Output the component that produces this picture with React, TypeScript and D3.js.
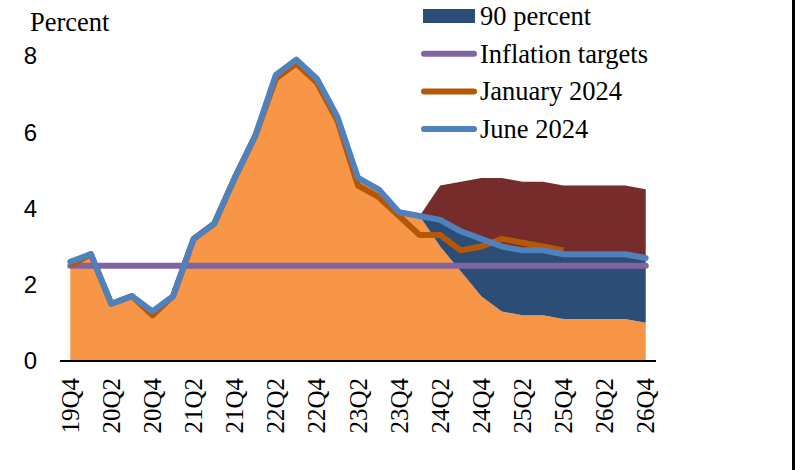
import React from "react";
import * as d3 from "d3";

const quarters = [
  "19Q4", "20Q1", "20Q2", "20Q3", "20Q4", "21Q1", "21Q2", "21Q3", "21Q4",
  "22Q1", "22Q2", "22Q3", "22Q4", "23Q1", "23Q2", "23Q3", "23Q4",
  "24Q1", "24Q2", "24Q3", "24Q4", "25Q1", "25Q2", "25Q3", "25Q4",
  "26Q1", "26Q2", "26Q3", "26Q4",
];
const tickLabels = [
  "19Q4", "20Q2", "20Q4", "21Q2", "21Q4", "22Q2", "22Q4", "23Q2", "23Q4",
  "24Q2", "24Q4", "25Q2", "25Q4", "26Q2", "26Q4",
];
const yTicks = [0, 2, 4, 6, 8];

// June 2024 projection (history + forecast), 19Q4..26Q4
const june2024 = [
  2.6, 2.8, 1.5, 1.7, 1.3, 1.7, 3.2, 3.6, 4.8, 5.9, 7.5, 7.9, 7.4, 6.4, 4.8, 4.5,
  3.9, 3.8, 3.7, 3.4, 3.2, 3.0, 2.9, 2.9, 2.8, 2.8, 2.8, 2.8, 2.7,
];
// January 2024 projection, 19Q4..25Q4
const january2024 = [
  2.5, 2.8, 1.5, 1.7, 1.2, 1.7, 3.2, 3.6, 4.8, 5.9, 7.4, 7.8, 7.3, 6.3, 4.6, 4.3,
  3.8, 3.3, 3.3, 2.9, 3.0, 3.2, 3.1, 3.0, 2.9,
];
// 90 percent band, 24Q1..26Q4
const fanStart = 17;
const lower90 = [3.8, 3.0, 2.35, 1.7, 1.3, 1.2, 1.2, 1.1, 1.1, 1.1, 1.1, 1.0];
const upper90 = [3.8, 4.6, 4.7, 4.8, 4.8, 4.7, 4.7, 4.6, 4.6, 4.6, 4.6, 4.5];
const inflationTarget = quarters.map(() => 2.5);

const legendItems = ["90 percent", "Inflation targets", "January 2024", "June 2024"];

const C = {
  orange: "#F79646",
  band: "#2C4D75",
  upper: "#772C2C",
  june: "#4F81BD",
  jan: "#B65708",
  target: "#8064A2",
};

const serif = "'Liberation Serif', 'Times New Roman', serif";
const sans = "'Liberation Sans', Arial, sans-serif";

export default function App() {
  const W = 795;
  const H = 470;
  const x = d3.scaleBand<string>().domain(quarters).range([60, 656]).padding(0);
  const cx = (i: number) => (x(quarters[i]) as number) + x.bandwidth() / 2;
  const y = d3.scaleLinear().domain([0, 8]).range([361, 55.8]);

  const baseSeries = june2024.slice(0, fanStart).concat(lower90);
  const areaBase = d3
    .area<number>()
    .x((_, i) => cx(i))
    .y0(y(0))
    .y1((d) => y(d));
  const bandIdx = lower90.map((_, i) => i + fanStart);
  const areaLowBand = d3
    .area<number>()
    .x((i) => cx(i))
    .y0((i) => y(lower90[i - fanStart]))
    .y1((i) => y(june2024[i]));
  const areaUpBand = d3
    .area<number>()
    .x((i) => cx(i))
    .y0((i) => y(june2024[i]))
    .y1((i) => y(upper90[i - fanStart]));
  const line = d3
    .line<number>()
    .x((_, i) => cx(i))
    .y((d) => y(d));

  return (
    <svg
      width={W}
      height={H}
      style={{ position: "absolute", left: 0, top: 0, background: "#fff" }}
    >
      <rect x={0} y={0} width={W} height={H} fill="#fff" />
      <path d={areaBase(baseSeries) || ""} fill={C.orange} />
      <path d={areaLowBand(bandIdx) || ""} fill={C.band} />
      <path d={areaUpBand(bandIdx) || ""} fill={C.upper} />
      <path
        d={line(inflationTarget) || ""}
        fill="none"
        stroke={C.target}
        strokeWidth={6}
        strokeLinecap="round"
      />
      <path
        d={line(january2024) || ""}
        fill="none"
        stroke={C.jan}
        strokeWidth={6}
        strokeLinejoin="round"
      />
      <path
        d={line(june2024) || ""}
        fill="none"
        stroke={C.june}
        strokeWidth={6}
        strokeLinejoin="round"
        strokeLinecap="round"
      />
      {/* x axis */}
      <line x1={60} x2={656} y1={361} y2={361} stroke="#000" strokeWidth={2} />
      {tickLabels.map((t) => {
        const px = (x(t) as number) + x.bandwidth() / 2;
        return (
          <text
            key={t}
            transform={`translate(${px + 8.5},378) rotate(-90)`}
            textAnchor="end"
            fontFamily={serif}
            fontSize={25}
            fill="#000"
          >
            {t}
          </text>
        );
      })}
      {yTicks.map((v) => (
        <text
          key={v}
          x={37}
          y={y(v)}
          dy="0.35em"
          textAnchor="end"
          fontFamily={sans}
          fontSize={24}
          fill="#000"
        >
          {v}
        </text>
      ))}
      <text x={30} y={31} fontFamily={serif} fontSize={26.5} fill="#000">
        Percent
      </text>
      {/* legend */}
      <rect x={423} y={9} width={52} height={14} fill={C.band} />
      {legendItems.map((label, i) => {
        const cy = 16 + i * 37.7;
        const color = [C.band, C.target, C.jan, C.june][i];
        return (
          <g key={label}>
            {i > 0 && (
              <line
                x1={424}
                x2={474}
                y1={cy}
                y2={cy}
                stroke={color}
                strokeWidth={6}
                strokeLinecap="round"
              />
            )}
            <text x={480} y={cy + 9} fontFamily={serif} fontSize={26.5} fill="#000">
              {label}
            </text>
          </g>
        );
      })}
      <rect x={792} y={0} width={3} height={H} fill="#000" />
    </svg>
  );
}
